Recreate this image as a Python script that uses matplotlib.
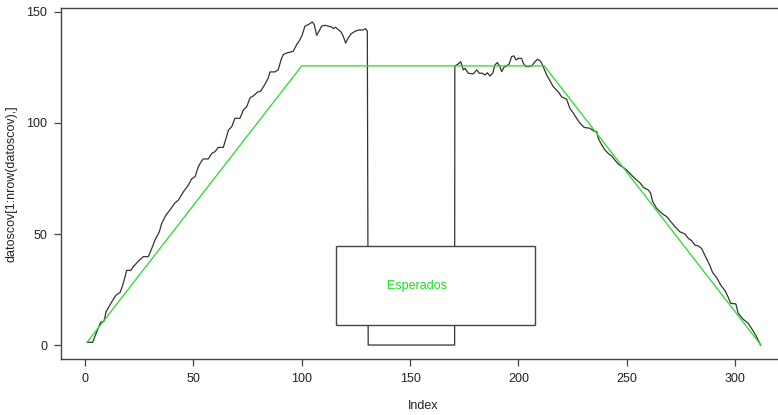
import matplotlib
matplotlib.use("Agg")
import matplotlib.pyplot as plt
from matplotlib.patches import Rectangle

plt.rcParams['font.family'] = ['Liberation Sans', 'DejaVu Sans']

obs_x = [1, 3.5, 5.4, 7.2, 8.8, 9.7, 11.5, 13.1, 14.3, 16.2, 17.4, 18.5, 19.2, 21.1,
         22.3, 24.6, 26.9, 29.2, 30.8, 32.3, 34.3, 35.4, 37.4, 39.2, 41.5, 43.1, 45.4,
         47.7, 49.2, 50.8, 52.3, 53.8, 54.6, 56.9, 58.5, 60, 61.5, 63.8, 65.1, 66.2,
         67.7, 69.2, 71.5, 73.1, 74.6, 76.2, 77.7, 79.5, 81.1, 83.1, 84.6, 85.4, 87.7,
         89.2, 90.5, 91.5, 93.1, 96.1, 97.7, 99.2, 100.3, 101.5, 103.1, 104.9, 105.8,
         106.9, 108, 109.2, 110.8, 112.3, 113.8, 114.6, 115.7, 116.9, 118.2, 119.2,
         120.3, 121.5, 122.8, 124.6, 126.5, 128.5, 129.5, 130.3, 130.7,
         170.6, 170.7, 172.3, 173.4, 174.6, 175.4, 176.9, 179.2, 180.8, 182, 183.5,
         184.6, 185.7, 186.9, 188.2, 189.2, 190.3, 191.5, 192.3, 193.4, 194.6, 195.8,
         196.9, 198, 198.9, 200, 201.5, 202.3, 203.5, 204.6, 206.2, 207.7, 208.8, 210,
         210.8, 211.8, 213.1, 214.6, 216.1, 218.4, 220, 222.3, 223.8, 225.4, 226.9,
         228.5, 230.4, 233.1, 234.6, 236.2, 236.9, 238.5, 240, 241.5, 243.1, 244.6,
         246.1, 248, 250, 251.5, 253.5, 256.2, 257.7, 260, 261.1, 262, 263.8, 266.2,
         268.5, 270.8, 272.3, 274.6, 276.9, 278.4, 280, 281.5, 283.1, 284.6, 285.7,
         287.2, 288.5, 289.7, 291.8, 293.4, 295.4, 296.9, 298, 300.4, 301.5, 303.8,
         306.1, 308.1, 310, 311.8]
obs_y = [1.2, 1.2, 6.0, 10.2, 10.8, 15, 18, 20.7, 22.5, 23.7, 27, 30.8, 33.6, 33.6,
         35.3, 37.8, 39.8, 39.8, 43.5, 47.3, 51, 54.8, 58.6, 60.8, 64, 65.3, 69,
         72, 74.8, 75.8, 80.3, 82.9, 83.8, 83.8, 86.3, 87.1, 89, 89, 93.1, 96.8,
         98.3, 102.1, 102.1, 105.9, 107.3, 111.4, 112.2, 113.8, 114.4, 117.5, 120.3, 123, 123,
         124, 128.5, 130.8, 131.5, 132.3, 135.3, 137.5, 139.8, 143.6, 144.3, 145.5, 144.3,
         139.5, 141.3, 143.6, 144, 143.6, 143.2, 142.5, 143.1, 142, 141, 139,
         136, 138.3, 140.1, 141.3, 141.9, 141.9, 142.5, 141.3, 0,
         0, 125.7, 126.6, 127.6, 123.9, 124.6, 122.4, 122.1, 123.9, 122.4, 122.4,
         121.6, 122.6, 121.2, 122.4, 126.1, 127.2, 125.4, 123.1, 125.1, 125.7, 126.6,
         129.9, 130.2, 128.4, 129.1, 129.1, 126.9, 125.4, 125.4, 125.7, 127.6, 128.7, 128,
         126.9, 124.6, 121.6, 119, 116.4, 114.1, 111.8, 110.7, 106.6, 104.4, 102.1,
         99.9, 98, 97.6, 96.5, 96.1, 93.1, 90.1, 87.8, 86.3, 85.1, 83.3,
         81.5, 80.3, 78.8, 77.3, 75.3, 73, 71, 69.8, 68.3, 64.6, 61.6, 59.3,
         57.8, 55.1, 53.3, 51, 50, 48.1, 47, 45, 44.6, 43.5, 41.3,
         38.3, 35.6, 32.6, 30, 27, 24.5, 21.5, 18.8, 18.5, 14.3, 11.6,
         9.8, 6.8, 3.7, 0]

# expected profile
exp_x = [1, 100, 212, 312]
exp_y = [1.3, 125.7, 125.7, 0]

x_ticks = [0, 50, 100, 150, 200, 250, 300]
y_ticks = [0, 50, 100, 150]
legend_label = "Esperados"

axis_col = '#444444'
green = '#22dd22'

fig = plt.figure(figsize=(7.78, 4.15), dpi=100)
ax = fig.add_axes([0.0784, 0.1349, 0.9306, 0.847])

ax.plot(obs_x, obs_y, color='#333333', lw=0.9, zorder=2)
ax.plot(exp_x, exp_y, color=green, lw=0.9, zorder=3)

ax.set_xlim(-11.1, 323.1)
ax.set_ylim(-6.3, 152)
ax.set_xticks(x_ticks)
ax.set_yticks(y_ticks)
ax.tick_params(colors=axis_col, labelcolor='#222222', labelsize=9, length=5, width=0.9, pad=5)

for s in ax.spines.values():
    s.set_color(axis_col)
    s.set_linewidth(1.0)

ax.set_xlabel("Index", fontsize=9, color='#222222', labelpad=11)
ax.set_ylabel("datoscov[1:nrow(datoscov),]", fontsize=9, color='#222222', labelpad=6)

# legend box, as placed by the original legend() call
box = Rectangle((115.9, 9.1), 91.6, 35.3, facecolor='white', edgecolor='#444444',
                lw=1.0, zorder=4)
ax.add_patch(box)
ax.text(139.3, 26.6, legend_label, color=green, fontsize=9, va='center', ha='left', zorder=5)

fig.savefig("out.png", dpi=100)
